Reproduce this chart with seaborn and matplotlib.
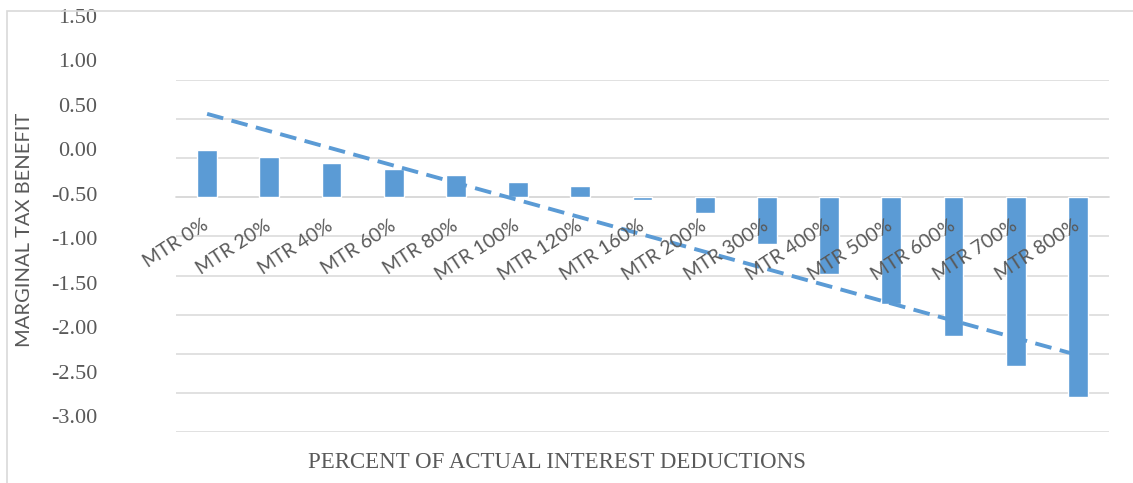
import numpy as np
import matplotlib
matplotlib.use("Agg")
import matplotlib.pyplot as plt
import seaborn as sns
from matplotlib.patches import Rectangle

# --- data ---
categories = ["MTR 0%", "MTR 20%", "MTR 40%", "MTR 60%", "MTR 80%", "MTR 100%",
              "MTR 120%", "MTR 160%", "MTR 200%", "MTR 300%", "MTR 400%",
              "MTR 500%", "MTR 600%", "MTR 700%", "MTR 800%"]
benefit = [0.60, 0.51, 0.44, 0.36, 0.28, 0.20, 0.14, -0.04, -0.20,
           -0.60, -0.98, -1.37, -1.77, -2.15, -2.55]
y_ticks = [1.5, 1.0, 0.5, 0.0, -0.5, -1.0, -1.5, -2.0, -2.5, -3.0]

BLUE = "#5B9BD5"
GRID = "#D9D9D9"
TEXT = "#595959"
W, H = 1133, 483

sns.set_style("white")

fig = plt.figure(figsize=(W / 100, H / 100), dpi=100)

# light frame of the chart area, cropped on the right/bottom like the original
fig.patches.append(Rectangle((7 / W, -0.1), 1.2, 0.1 + (H - 11) / H,
                             transform=fig.transFigure, fill=False,
                             edgecolor=GRID, lw=1.2))

# --- main plot ---
ax = fig.add_axes([176 / W, (H - 432) / H, 933 / W, 352 / H])
sns.barplot(x=categories, y=benefit, color=BLUE, width=0.32, saturation=1, ax=ax)
# linear trendline
sns.regplot(x=np.arange(len(benefit)), y=benefit, scatter=False, ci=None,
            truncate=True, color=BLUE,
            line_kws=dict(lw=2.8, ls=(0, (4.3, 2.2))), ax=ax)

ax.set_xlim(-0.5, len(categories) - 0.5)
ax.set_ylim(-3, 1.5)
ax.set_yticks(y_ticks)
ax.set_yticklabels([])
ax.yaxis.grid(True, color=GRID, lw=1.1)
ax.set_axisbelow(True)
ax.xaxis.set_zorder(5)  # category labels sit on top of the bars
ax.tick_params(axis="y", length=0)
for s in ["top", "right", "left"]:
    ax.spines[s].set_visible(False)
ax.spines["bottom"].set_position(("data", 0))
ax.spines["bottom"].set_color(GRID)
ax.spines["bottom"].set_linewidth(1.1)
ax.spines["bottom"].set_zorder(0.6)

ax.set_xticks(range(len(categories)))
ax.set_xticklabels(categories, rotation=33, ha="right", va="center",
                   rotation_mode="anchor", family="Lato", fontsize=14,
                   color=TEXT)
ax.tick_params(axis="x", length=0, pad=19)
ax.set_xlabel("")
ax.set_ylabel("")

# --- value labels on the left (offset from the gridlines as in the original) ---
ax_lab = fig.add_axes([100 / W, (H - 416) / H, 0.001, 400 / H])
ax_lab.set_ylim(-3, 1.5)
ax_lab.set_yticks(y_ticks)
ax_lab.set_yticklabels([f"{v:.2f}" for v in y_ticks], family="Liberation Serif",
                       fontsize=16, color=TEXT)
ax_lab.tick_params(axis="y", length=0, pad=2)
ax_lab.set_xticks([])
ax_lab.patch.set_visible(False)
for s in ax_lab.spines.values():
    s.set_visible(False)

# --- axis titles ---
fig.text(25 / W, 1 - 230 / H, "MARGINAL TAX BENEFIT", rotation=90,
         ha="center", va="center", family="Lato", fontsize=14.5, color=TEXT)
fig.text(557 / W, 1 - 463 / H, "PERCENT OF ACTUAL INTEREST DEDUCTIONS",
         ha="center", va="center", family="Liberation Serif", fontsize=16.5,
         color=TEXT)

fig.savefig("out.png", dpi=100)
